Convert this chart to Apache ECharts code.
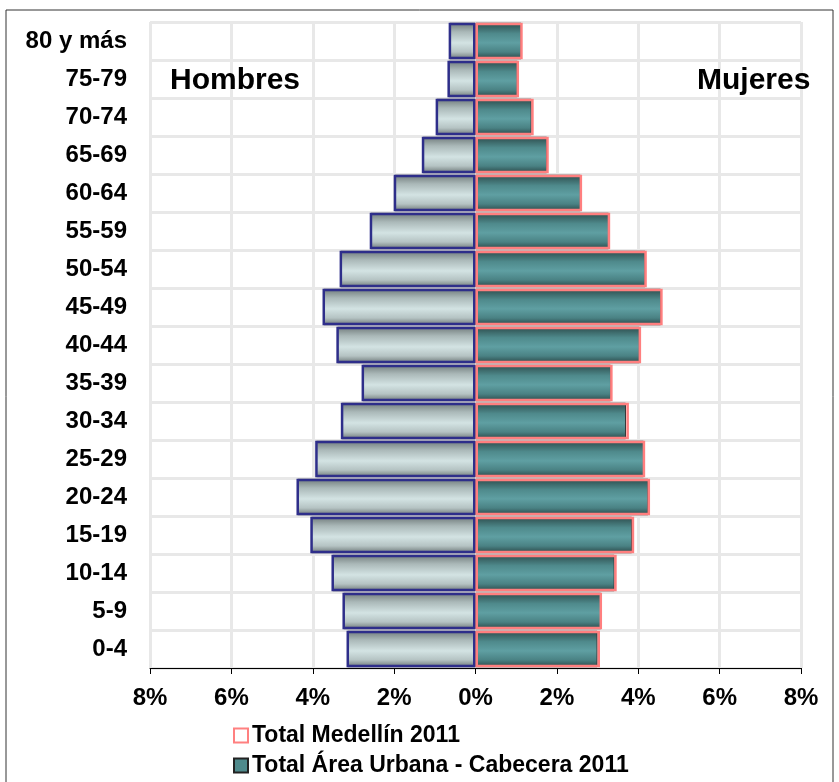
<!DOCTYPE html>
<html>
<head>
<meta charset="utf-8">
<script src="https://cdn.jsdelivr.net/npm/echarts@6/dist/echarts.min.js"></script>
<style>
html,body{margin:0;padding:0;background:#fff;}
#main{width:839px;height:782px;}
</style>
</head>
<body>
<div id="main"></div>
<script>
var categories = ['0-4','5-9','10-14','15-19','20-24','25-29','30-34','35-39','40-44','45-49','50-54','55-59','60-64','65-69','70-74','75-79','80 y más'];
// Percent values (men shown on left)
var medellinHombres  = [3.17, 3.27, 3.54, 4.06, 4.40, 3.94, 3.31, 2.80, 3.42, 3.76, 3.34, 2.60, 2.01, 1.32, 0.98, 0.69, 0.66];
var medellinMujeres  = [3.06, 3.11, 3.47, 3.90, 4.29, 4.17, 3.77, 3.37, 4.07, 4.60, 4.21, 3.31, 2.62, 1.80, 1.43, 1.07, 1.16];
var cabeceraHombres  = [3.15, 3.25, 3.52, 4.04, 4.38, 3.92, 3.29, 2.78, 3.40, 3.74, 3.32, 2.58, 1.99, 1.30, 0.96, 0.67, 0.64];
var cabeceraMujeres  = [3.00, 3.09, 3.42, 3.85, 4.25, 4.14, 3.70, 3.33, 4.04, 4.56, 4.18, 3.28, 2.59, 1.76, 1.38, 1.04, 1.13];
var xTicks = [-8, -6, -4, -2, 0, 2, 4, 6, 8];

var NAME_MED = 'Total Medellín 2011';
var NAME_CAB = 'Total Área Urbana - Cabecera 2011';

function neg(arr){ return arr.map(function(v){ return -v; }); }

var menFill = new echarts.graphic.LinearGradient(0,0,0,1,[
  {offset:0, color:'#6f7a7a'},
  {offset:0.25, color:'#aab8b8'},
  {offset:0.55, color:'#d3e3e3'},
  {offset:0.8, color:'#b5c3c3'},
  {offset:1, color:'#6a7474'}
]);
var womenFill = new echarts.graphic.LinearGradient(0,0,0,1,[
  {offset:0, color:'#2c4b4b'},
  {offset:0.3, color:'#4f8a8c'},
  {offset:0.55, color:'#5f9fa2'},
  {offset:0.8, color:'#4a8284'},
  {offset:1, color:'#2a4646'}
]);

var chart = echarts.init(document.getElementById('main'));
var font = 'Liberation Sans, Arial, sans-serif';
var legendText = {color:'#000', fontWeight:'bold', fontSize:23, fontFamily:font, padding:[0,0,0,-1]};

chart.setOption({
  animation:false,
  backgroundColor:'#fff',
  grid:{left:150, right:38, top:22, bottom:114, containLabel:false},
  xAxis:{
    type:'value', min:-8, max:8, interval:2,
    axisLine:{show:true, onZero:false, lineStyle:{color:'#000', width:1}},
    axisTick:{show:true, length:6, lineStyle:{color:'#000'}},
    axisLabel:{margin:18, color:'#000', fontWeight:'bold', fontSize:24, fontFamily:font,
      formatter:function(v){ return Math.abs(v) + '%'; }},
    splitLine:{show:true, lineStyle:{color:'#e8e8e8', width:3}}
  },
  yAxis:{
    type:'category', data:categories,
    axisLine:{show:false},
    axisTick:{show:false},
    axisLabel:{margin:23, color:'#000', fontWeight:'bold', fontSize:24, fontFamily:font},
    splitLine:{show:true, interval:0, lineStyle:{color:'#e8e8e8', width:3}}
  },
  legend:[
    {left:233, top:724, padding:0, itemWidth:14, itemHeight:14, icon:'rect', textStyle:legendText,
      data:[{name:NAME_MED, itemStyle:{color:'#fff', borderColor:'#ff8080', borderWidth:2}}]},
    {left:233, top:754, padding:0, itemWidth:14, itemHeight:14, icon:'rect', textStyle:legendText,
      data:[{name:NAME_CAB, itemStyle:{color:'#4f8a8c', borderColor:'#222', borderWidth:2}}]}
  ],
  graphic:[
    {type:'rect', shape:{x:6, y:10, width:827, height:790}, style:{fill:'none', stroke:'#333', lineWidth:1}, silent:true, z:-1},
    {type:'text', left:170, top:66, z:100, style:{text:'Hombres', fill:'#000', font:'bold 30px ' + font}},
    {type:'text', left:697, top:66, z:100, style:{text:'Mujeres', fill:'#000', font:'bold 30px ' + font}}
  ],
  series:[
    {name:NAME_CAB, type:'bar', data:neg(cabeceraHombres), barGap:'-100%', barCategoryGap:'4%',
      itemStyle:{color:menFill, borderColor:'#555', borderWidth:1}, z:2},
    {name:NAME_CAB, type:'bar', data:cabeceraMujeres, barGap:'-100%', barCategoryGap:'4%',
      itemStyle:{color:womenFill, borderColor:'#333', borderWidth:1}, z:2},
    {name:NAME_MED, type:'bar', data:neg(medellinHombres), barGap:'-100%', barCategoryGap:'4%',
      itemStyle:{color:'rgba(0,0,0,0)', borderColor:'#2e2e8a', borderWidth:2.5}, z:3},
    {name:NAME_MED, type:'bar', data:medellinMujeres, barGap:'-100%', barCategoryGap:'4%',
      itemStyle:{color:'rgba(0,0,0,0)', borderColor:'#ff7f7f', borderWidth:2.5}, z:3}
  ]
});
</script>
</body>
</html>
